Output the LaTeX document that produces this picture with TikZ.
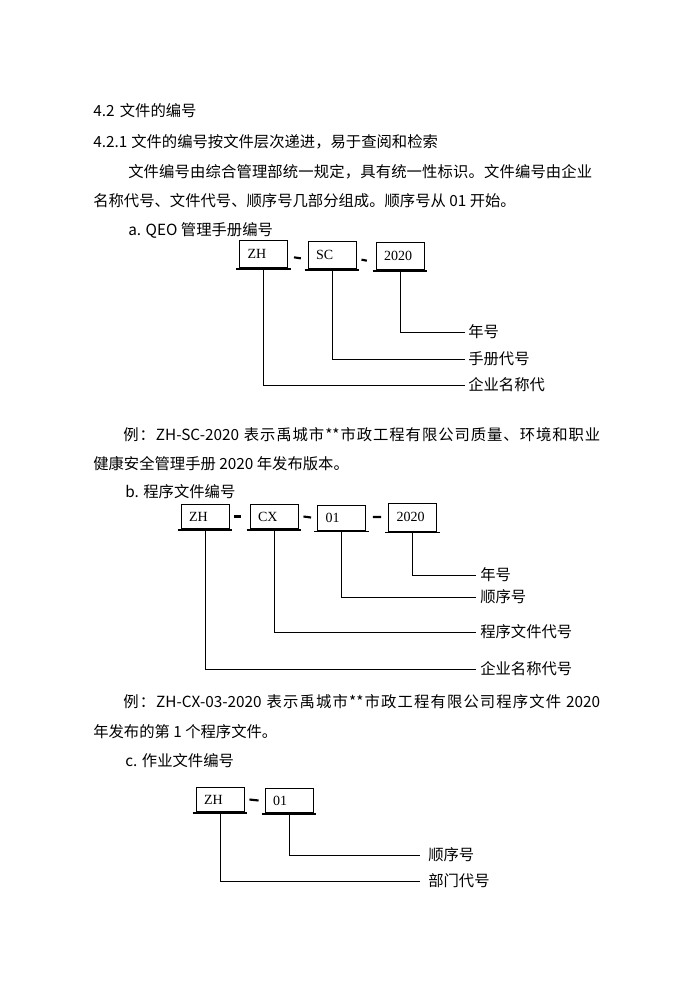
\documentclass[tikz,border=0pt]{standalone}
\usepackage{fontspec}
\newfontfamily\cjk{Noto Sans CJK SC}
\newfontfamily\tnr{Liberation Serif}
% stretchable glue between CJK characters, so that lines can be justified
\XeTeXinterchartokenstate=1
\newcount\cjkcc
\cjkcc="4E00
\loop \XeTeXcharclass\cjkcc=5 \advance\cjkcc by 1 \ifnum\cjkcc<"A000 \repeat
\XeTeXcharclass"3001=5 \XeTeXcharclass"3002=5 \XeTeXcharclass"FF0C=5 \XeTeXcharclass"FF1A=5
\XeTeXinterchartoks 5 5 = {\hskip 0pt plus 1pt\relax}
\XeTeXinterchartoks 0 5 = {\hskip 0pt plus 1pt\relax}
\XeTeXinterchartoks 5 0 = {\hskip 0pt plus 1pt\relax}
\newcommand\mkbox[5]{%
  \node[cbox,minimum height=#4] (#1) at (#2,#3) {\makebox[24pt][l]{\raisebox{-1pt}{#5}}};
  \draw[uline] ([xshift=-2.25pt,yshift=-0.9pt]#1.south west) -- ([xshift=2.25pt,yshift=-0.9pt]#1.south east);}
\begin{document}
\begin{tikzpicture}[x=0.75pt,y=-0.75pt,
  txt/.style={anchor=west,inner sep=0pt,font=\cjk\fontsize{11.5pt}{13pt}\selectfont},
  lab/.style={txt},
  cbox/.style={draw,line width=0.7pt,minimum width=36pt,inner sep=0pt,
    font=\tnr\fontsize{10.5pt}{12pt}\selectfont},
  uline/.style={line width=1.1pt},
  dashbar/.style={line width=1.6pt},
  conn/.style={line width=0.75pt}]
\useasboundingbox (0,0) rectangle (700,990);
% ---- text ----
\node[txt] (t1) at (93,111) {4.2\hspace{4pt}文件的编号};
\node[txt] (t2) at (93,142) {4.2.1\hspace{3pt}文件的编号按文件层次递进，易于查阅和检索};
\node[txt] (t3) at (128,172) {\makebox[348pt][s]{文件编号由综合管理部统一规定，具有统一性标识。文件编号由企业}};
\node[txt] (t4) at (93,201) {名称代号、文件代号、顺序号几部分组成。顺序号从 01 开始。};
\node[txt] (t5) at (128,230) {a. QEO 管理手册编号};
\node[txt] (ea1) at (123,435) {\makebox[357.75pt][s]{例：ZH-SC-2020 表示禹城市**市政工程有限公司质量、环境和职业}};
\node[txt] (ea2) at (93,464) {健康安全管理手册 2020 年发布版本。};
\node[txt] (tb) at (125,492) {b. 程序文件编号};
\node[txt] (eb1) at (123,702) {\makebox[357.75pt][s]{例：ZH-CX-03-2020 表示禹城市**市政工程有限公司程序文件 2020}};
\node[txt] (eb2) at (93,732) {年发布的第 1 个程序文件。};
\node[txt] (tc) at (125,761) {c. 作业文件编号};
% ---- diagram a ----
\mkbox{azh}{263.5}{254}{20.25pt}{ZH}
\mkbox{asc}{332}{255}{20.25pt}{SC}
\mkbox{ayr}{400}{256}{20.25pt}{2020}
\draw[dashbar] ([xshift=4.5pt,yshift=-2.5pt]azh.east) -- ([xshift=-5pt,yshift=-2.5pt]asc.west);
\draw[dashbar] ([xshift=3.75pt,yshift=-3.5pt]asc.east) -- ([xshift=-6.5pt,yshift=-3.5pt]ayr.west);
\node[lab] (la1) at (468,332) {年号};
\node[lab] (la2) at (468,359) {手册代号};
\node[lab] (la3) at (468,385) {企业名称代};
\draw[conn] (ayr.south) |- ([xshift=-2.25pt]la1.west);
\draw[conn] (asc.south) |- ([xshift=-2.25pt]la2.west);
\draw[conn] (azh.south) |- ([xshift=-2.25pt]la3.west);
% ---- diagram b ----
\mkbox{bzh}{205}{516.5}{17.5pt}{ZH}
\mkbox{bcx}{274}{516.5}{17.5pt}{CX}
\mkbox{bno}{341.5}{517.5}{18.75pt}{01}
\mkbox{byr}{412.5}{517}{21pt}{2020}
\draw[dashbar] ([xshift=3.75pt]bzh.east) -- ([xshift=-6.75pt]bcx.west);
\draw[dashbar] ([xshift=3.75pt]bcx.east) -- ([xshift=-4.5pt]bno.west);
\draw[dashbar] ([xshift=5.25pt,yshift=0.4pt]bno.east) -- ([xshift=-5.25pt]byr.west);
\node[lab] (lb1) at (480,575) {年号};
\node[lab] (lb2) at (480,597) {顺序号};
\node[lab] (lb3) at (480,632) {程序文件代号};
\node[lab] (lb4) at (480,669) {企业名称代号};
\draw[conn] (byr.south) |- ([xshift=-3pt]lb1.west);
\draw[conn] (bno.south) |- ([xshift=-3pt]lb2.west);
\draw[conn] (bcx.south) |- ([xshift=-3pt]lb3.west);
\draw[conn] (bzh.south) |- ([xshift=-3pt]lb4.west);
% ---- diagram c ----
\mkbox{czh}{220}{799.5}{17.5pt}{ZH}
\mkbox{cno}{289}{800.5}{17.5pt}{01}
\draw[dashbar] ([xshift=3.75pt]czh.east) -- ([xshift=-4.5pt]cno.west);
\node[lab] (lc1) at (428,855) {顺序号};
\node[lab] (lc2) at (428,881) {部门代号};
\draw[conn] (cno.south) |- ([xshift=-6pt]lc1.west);
\draw[conn] (czh.south) |- ([xshift=-6pt]lc2.west);
\end{tikzpicture}
\end{document}
